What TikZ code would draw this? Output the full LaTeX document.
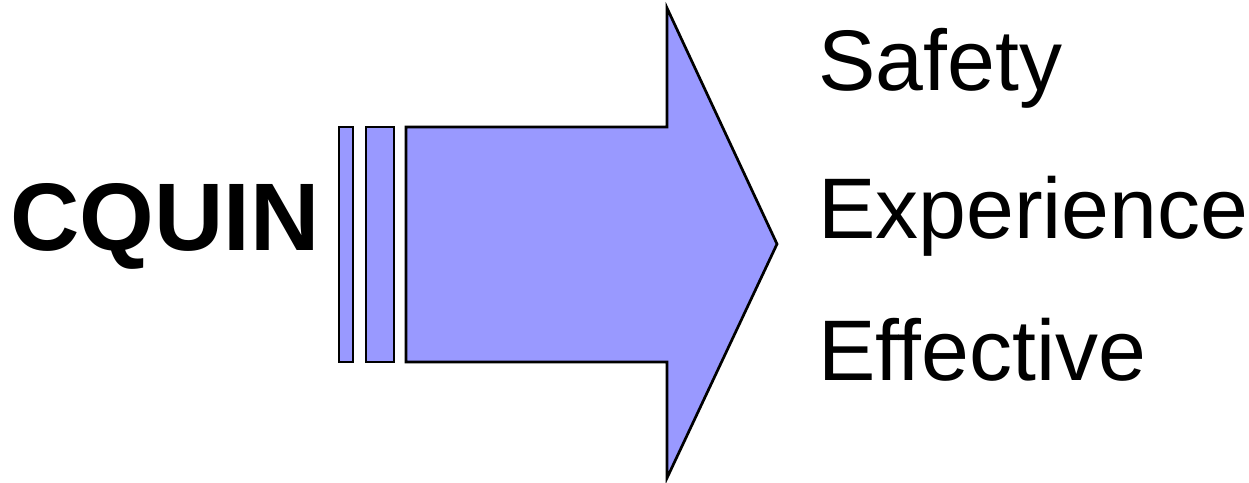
\documentclass[tikz,border=0pt]{standalone}
\usepackage{fontspec}
\setmainfont[Ligatures=NoCommon]{Liberation Sans}
\usepackage{tikz}
\usetikzlibrary{positioning}
\definecolor{arrowblue}{HTML}{9999FF}
\tikzset{
  bar/.style    = {draw=black, line width=2.7pt, fill=arrowblue, line join=miter},
  title/.style  = {anchor=base west, inner sep=0pt, font=\fontsize{96}{100}\selectfont\bfseries},
  goal/.style   = {anchor=base west, inner sep=0pt, font=\fontsize{86}{90}\selectfont},
}
\begin{document}
\begin{tikzpicture}[x=1pt, y=-1pt]
  \useasboundingbox (0,0) rectangle (1249,482);
  % stripes in front of the arrow
  \draw[bar] (339,127) rectangle (353,362);
  \draw[bar] (366,127) rectangle (394,362);
  % block arrow
  \draw[bar] (406,127) -- (667,127) -- (667,8) -- (777,244)
             -- (667,478) -- (667,362) -- (406,362) -- cycle;
  \node[title] (cq) at (10,250) {CQUIN};
  \node[goal] (safe) at (818,90) {Safety};
  \node[goal] (exp) at (818,238) {Experience};
  \node[goal] (eff) at (818,380) {Effective};
\end{tikzpicture}
\end{document}
